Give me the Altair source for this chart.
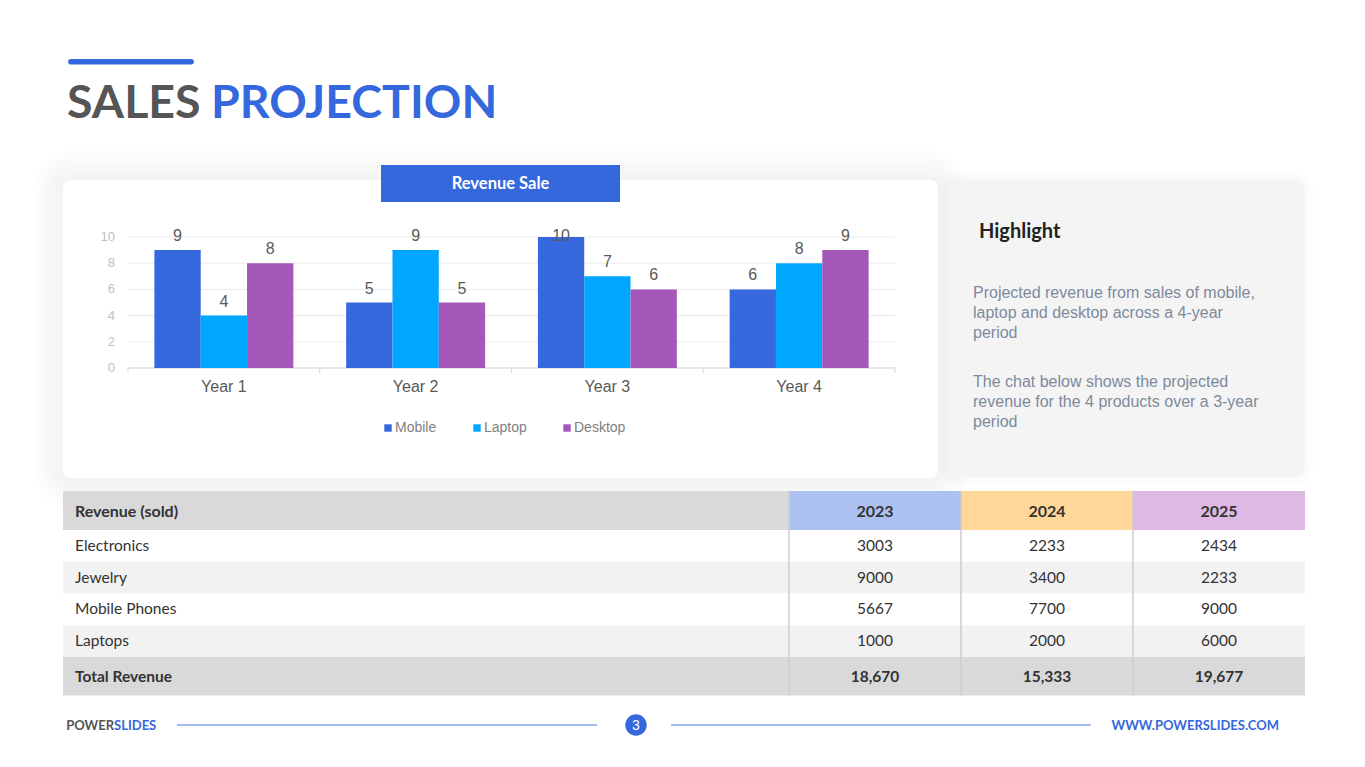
import altair as alt
import pandas as pd

# ---------------- chart data ----------------
years = ["Year 1", "Year 2", "Year 3", "Year 4"]
series = ["Mobile", "Laptop", "Desktop"]
mobile = [9, 5, 10, 6]
laptop = [4, 9, 7, 8]
desktop = [8, 5, 6, 9]
y_ticks = [0, 2, 4, 6, 8, 10]
series_colors = ["#3569DD", "#00A7FF", "#A558B9"]

# ---------------- table data ----------------
table_products = ["Electronics", "Jewelry", "Mobile Phones", "Laptops"]
table_years = ["2023", "2024", "2025"]
rev_2023 = [3003, 9000, 5667, 1000]
rev_2024 = [2233, 3400, 7700, 2000]
rev_2025 = [2434, 2233, 9000, 6000]
totals_text = ["18,670", "15,333", "19,677"]
year_header_colors = ["#ADC1F1", "#FFD899", "#DDB9E3"]
header_label = "Revenue (sold)"
total_label = "Total Revenue"

# ---------------- text ----------------
title_left = "SALES"
title_right = "PROJECTION"
chart_title = "Revenue Sale"
highlight_title = "Highlight"
highlight_para1 = ["Projected revenue from sales of mobile,", "laptop and desktop across a 4-year", "period"]
highlight_para2 = ["The chat below shows the projected", "revenue for the 4 products over a 3-year", "period"]
footer_left_a = "POWER"
footer_left_b = "SLIDES"
footer_right = "WWW.POWERSLIDES.COM"
page_number = "3"

BLUE = "#3568DD"
GRAY_TITLE = "#555555"
O = 8  # page margin


def X(v):
    return v - O


def Y(v):
    return v - O


dummy = pd.DataFrame({"d": [0]})


def rect(x1, y1, x2, y2, fill, radius=0, opacity=1.0):
    return alt.Chart(dummy).mark_rect(fill=fill, cornerRadius=radius, opacity=opacity).encode(
        x=alt.value(X(x1)), x2=alt.value(X(x2)), y=alt.value(Y(y1)), y2=alt.value(Y(y2))
    )


def label(txt, x, y, size, color, weight="normal", font="Lato", align="left", baseline="alphabetic"):
    return alt.Chart(dummy).mark_text(
        text=txt, fontSize=size, color=color, fontWeight=weight, font=font, align=align, baseline=baseline
    ).encode(x=alt.value(X(x)), y=alt.value(Y(y)))


def hline(x1, x2, y, color, width=1.0):
    return alt.Chart(dummy).mark_rule(color=color, strokeWidth=width).encode(
        x=alt.value(X(x1)), x2=alt.value(X(x2)), y=alt.value(Y(y))
    )


layers = []

# card shadows
for i in range(1, 13):
    g = 2.6 * i
    layers.append(rect(63 - g, 180 - g, 938 + g, 478 + g, "#000000", radius=8 + g, opacity=0.003))
for i in range(1, 6):
    g = 2.0 * i
    layers.append(rect(947 - g, 180 - g, 1305 + g, 477 + g, "#000000", radius=10 + g, opacity=0.002))

# title
layers.append(rect(68, 59, 194, 64.5, BLUE, radius=2.7))
layers.append(label(title_left, 67, 118, 46.5, GRAY_TITLE, weight="bold"))
layers.append(label(title_right, 211, 118, 46.5, BLUE, weight="bold"))

# chart card
layers.append(rect(63, 180, 938, 478, "#FFFFFF", radius=8))
layers.append(rect(381, 165, 620, 202, BLUE))
layers.append(label(chart_title, 500.5, 184, 16.5, "#FFFFFF", weight="bold", align="center", baseline="middle"))

# ---------------- bar chart ----------------
bar_df = pd.DataFrame(
    [
        {"year": yr, "series": s, "value": v}
        for s, vals in zip(series, [mobile, laptop, desktop])
        for yr, v in zip(years, vals)
    ]
)
tick_df = pd.DataFrame({"tick": y_ticks})
year_df = pd.DataFrame({"year": years})

xs = alt.Scale(domain=years, range=[X(128), X(895)], paddingInner=0, paddingOuter=0)
xo = alt.Scale(domain=series, paddingInner=0, paddingOuter=0.57)
ys = alt.Scale(domain=[0, 10], range=[Y(368), Y(237)], nice=False, zero=True)
cs = alt.Scale(domain=series, range=series_colors)

grid = alt.Chart(tick_df).mark_rule(color="#EBEBEB", strokeWidth=1).encode(
    y=alt.Y("tick:Q", scale=ys, axis=None), x=alt.value(X(128)), x2=alt.value(X(895))
)
base_line = hline(128, 895, 368, "#D9D9D9", 1)
cat_ticks = alt.Chart(year_df).mark_rule(color="#D9D9D9", strokeWidth=1).encode(
    x=alt.X("year:N", scale=xs, bandPosition=0, axis=None), y=alt.value(Y(368)), y2=alt.value(Y(373))
)
end_tick = alt.Chart(dummy).mark_rule(color="#D9D9D9", strokeWidth=1).encode(
    x=alt.value(X(895)), y=alt.value(Y(368)), y2=alt.value(Y(373))
)
tick_labels = alt.Chart(tick_df).mark_text(
    align="right", baseline="middle", fontSize=13, color="#BFBFBF", font="Liberation Sans"
).encode(y=alt.Y("tick:Q", scale=ys, axis=None), x=alt.value(X(115)), text="tick:Q")
year_labels = alt.Chart(year_df).mark_text(
    align="center", baseline="alphabetic", fontSize=16, color="#595959", font="Liberation Sans"
).encode(x=alt.X("year:N", scale=xs, axis=None), y=alt.value(Y(391.5)), text="year:N")

bars = alt.Chart(bar_df).mark_bar().encode(
    x=alt.X("year:N", scale=xs, axis=None),
    xOffset=alt.XOffset("series:N", scale=xo),
    y=alt.Y("value:Q", scale=ys, axis=None),
    color=alt.Color(
        "series:N",
        scale=cs,
        legend=alt.Legend(
            orient="none",
            legendX=X(381),
            legendY=Y(421),
            direction="horizontal",
            title=None,
            symbolType="square",
            symbolSize=55,
            symbolStrokeWidth=0,
            labelFont="Liberation Sans",
            labelFontSize=14,
            labelColor="#808080",
            columnPadding=33,
            labelOffset=0,
        ),
    ),
)
value_labels = alt.Chart(bar_df).transform_calculate(ly="min(datum.value, 9)").mark_text(
    baseline="alphabetic", dy=-9, fontSize=16, color="#595959", font="Liberation Sans"
).encode(
    x=alt.X("year:N", scale=xs, axis=None),
    xOffset=alt.XOffset("series:N", scale=xo),
    y=alt.Y("ly:Q", scale=ys, axis=None),
    text="value:Q",
)

bar_chart = alt.layer(grid, base_line, cat_ticks, end_tick, tick_labels, year_labels, bars, value_labels)
layers.append(bar_chart)

# ---------------- highlight card ----------------
layers.append(rect(947, 180, 1305, 477, "#F4F4F4", radius=10))
layers.append(label(highlight_title, 979, 238, 20, "#222222", weight="bold"))
para_style = dict(align="left", baseline="alphabetic", fontSize=16, color="#7D8A9C", font="Liberation Sans", lineHeight=20)
layers.append(
    alt.Chart(pd.DataFrame({"t": [highlight_para1]})).mark_text(**para_style).encode(
        text="t", x=alt.value(X(973)), y=alt.value(Y(298))
    )
)
layers.append(
    alt.Chart(pd.DataFrame({"t": [highlight_para2]})).mark_text(**para_style).encode(
        text="t", x=alt.value(X(973)), y=alt.value(Y(387))
    )
)

# ---------------- table ----------------
body_df = pd.DataFrame(
    [
        {"product": p, "year": yr, "value": v}
        for yr, vals in zip(table_years, [rev_2023, rev_2024, rev_2025])
        for p, v in zip(table_products, vals)
    ]
)
prod_df = pd.DataFrame({"product": table_products})
tyear_df = pd.DataFrame({"year": table_years, "total": totals_text})

tx = alt.Scale(domain=table_years, range=[X(789), X(1305)], paddingInner=0, paddingOuter=0)
ty = alt.Scale(domain=table_products, range=[Y(530), Y(657)], paddingInner=0, paddingOuter=0)

hdr_first = rect(63, 491, 789, 530, "#D9D9D9")
hdr_years = alt.Chart(tyear_df).mark_rect().encode(
    x=alt.X("year:N", scale=tx, axis=None),
    y=alt.value(Y(491)),
    y2=alt.value(Y(530)),
    color=alt.Color("year:N", scale=alt.Scale(domain=table_years, range=year_header_colors), legend=None),
)
body_bg = alt.Chart(prod_df).mark_rect().encode(
    y=alt.Y("product:N", scale=ty, axis=None),
    x=alt.value(X(63)),
    x2=alt.value(X(1305)),
    fill=alt.Fill(
        "product:N",
        scale=alt.Scale(domain=table_products, range=["#FFFFFF", "#F2F2F2", "#FFFFFF", "#F2F2F2"]),
        legend=None,
    ),
)
total_bg = rect(63, 657, 1305, 695.5, "#D9D9D9")
seps = alt.Chart(tyear_df).mark_rule(color="#CCCCCC", strokeWidth=1.5).encode(
    x=alt.X("year:N", scale=tx, bandPosition=0, axis=None), y=alt.value(Y(491)), y2=alt.value(Y(695.5))
)
hdr_text = label(header_label, 75, 511.5, 16, "#333333", weight="bold", baseline="middle")
hdr_year_text = alt.Chart(tyear_df).mark_text(
    fontSize=16, fontWeight="bold", color="#333333", font="Lato", baseline="middle"
).encode(x=alt.X("year:N", scale=tx, axis=None), y=alt.value(Y(511.5)), text="year:N")
prod_text = alt.Chart(prod_df).mark_text(
    align="left", baseline="middle", fontSize=15.5, color="#333333", font="Lato"
).encode(y=alt.Y("product:N", scale=ty, axis=None), x=alt.value(X(75)), text="product:N")
val_text = alt.Chart(body_df).mark_text(
    align="center", baseline="middle", fontSize=15.5, color="#333333", font="Lato"
).encode(
    x=alt.X("year:N", scale=tx, axis=None),
    y=alt.Y("product:N", scale=ty, axis=None),
    text="value:Q",
)
total_text = label(total_label, 75, 676.5, 15.5, "#333333", weight="bold", baseline="middle")
total_vals = alt.Chart(tyear_df).mark_text(
    fontSize=15.5, fontWeight="bold", color="#333333", font="Lato", baseline="middle"
).encode(x=alt.X("year:N", scale=tx, axis=None), y=alt.value(Y(676.5)), text="total:N")

table = alt.layer(
    hdr_first, hdr_years, body_bg, total_bg, seps, hdr_text, hdr_year_text, prod_text, val_text, total_text, total_vals
)
layers.append(table)

# ---------------- footer ----------------
layers.append(label(footer_left_a, 114, 729.5, 13, GRAY_TITLE, weight="bold", align="right"))
layers.append(label(footer_left_b, 114, 729.5, 13, BLUE, weight="bold", align="left"))
layers.append(hline(177, 597, 725, "#4A78E0", 1))
layers.append(hline(671, 1091, 725, "#4A78E0", 1))
layers.append(
    alt.Chart(dummy).mark_circle(size=460, color=BLUE, opacity=1).encode(x=alt.value(X(636)), y=alt.value(Y(725)))
)
layers.append(label(page_number, 636, 725.5, 14, "#FFFFFF", font="Liberation Sans", align="center", baseline="middle"))
layers.append(label(footer_right, 1279, 729.5, 13, BLUE, weight="bold", align="right"))

chart = (
    alt.layer(*layers)
    .resolve_scale(x="independent", y="independent", color="independent", fill="independent")
    .properties(width=1349, height=751, padding=0, autosize=alt.AutoSizeParams(type="none"), background="#FFFFFF")
    .configure_view(stroke=None)
)

chart.save("out.html", embed_options={"renderer": "svg", "actions": False})
